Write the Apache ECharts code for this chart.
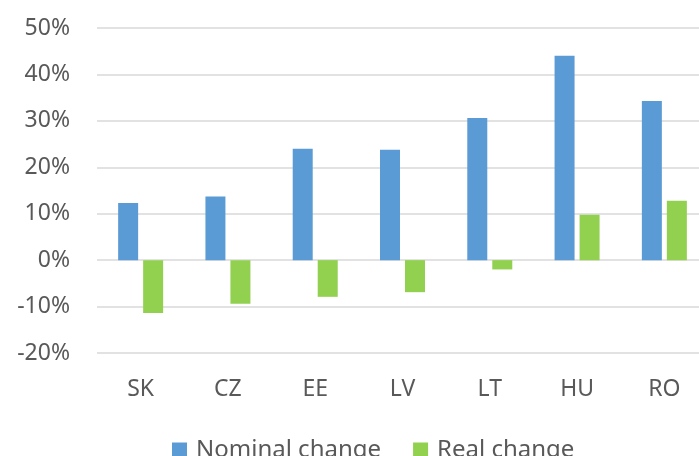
<!DOCTYPE html>
<html>
<head>
<meta charset="utf-8">
<script src="https://cdn.jsdelivr.net/npm/echarts@6/dist/echarts.min.js"></script>
<style>
  html, body { margin: 0; padding: 0; background: #fff; }
  #chart { width: 699px; height: 456px; }
</style>
</head>
<body>
<div id="chart"></div>
<script>
// values, in percent
const countries = ['SK', 'CZ', 'EE', 'LV', 'LT', 'HU', 'RO']
const nominalChange = [12.3, 13.7, 24.0, 23.8, 30.6, 44.0, 34.3]
const realChange = [-11.4, -9.4, -7.9, -6.9, -2.0, 9.8, 12.8]

let chart = echarts.init(document.getElementById('chart'))

let option = {
  animation: false,
  textStyle: { fontFamily: 'Noto Sans' },
  grid: {
    left: 97,
    top: 28,
    width: 611,
    height: 325,
    outerBoundsMode: 'none',
    containLabel: false
  },
  legend: {
    data: ['Nominal change', 'Real change'],
    left: 167,
    top: 433,
    itemWidth: 15,
    itemHeight: 15,
    itemGap: 32,
    icon: 'rect',
    textStyle: { fontSize: 24, color: '#595959', padding: [0, 0, 0, 4] }
  },
  xAxis: {
    type: 'category',
    data: countries,
    axisLine: { show: false, onZero: false },
    axisTick: { show: false },
    axisLabel: { color: '#595959', fontSize: 23, margin: 25 }
  },
  yAxis: {
    type: 'value',
    min: -20,
    max: 50,
    interval: 10,
    axisLine: { show: false },
    axisTick: { show: false },
    axisLabel: {
      color: '#595959',
      fontSize: 23,
      margin: 27,
      formatter: '{value}%'
    },
    splitLine: { lineStyle: { color: '#d9d9d9', width: 1.5 } }
  },
  series: [
    {
      name: 'Nominal change',
      type: 'bar',
      data: nominalChange,
      barWidth: 20,
      barGap: '25%',
      itemStyle: { color: '#5b9bd5' }
    },
    {
      name: 'Real change',
      type: 'bar',
      data: realChange,
      barWidth: 20,
      itemStyle: { color: '#92d050' }
    }
  ]
}

chart.setOption(option)
</script>
</body>
</html>
